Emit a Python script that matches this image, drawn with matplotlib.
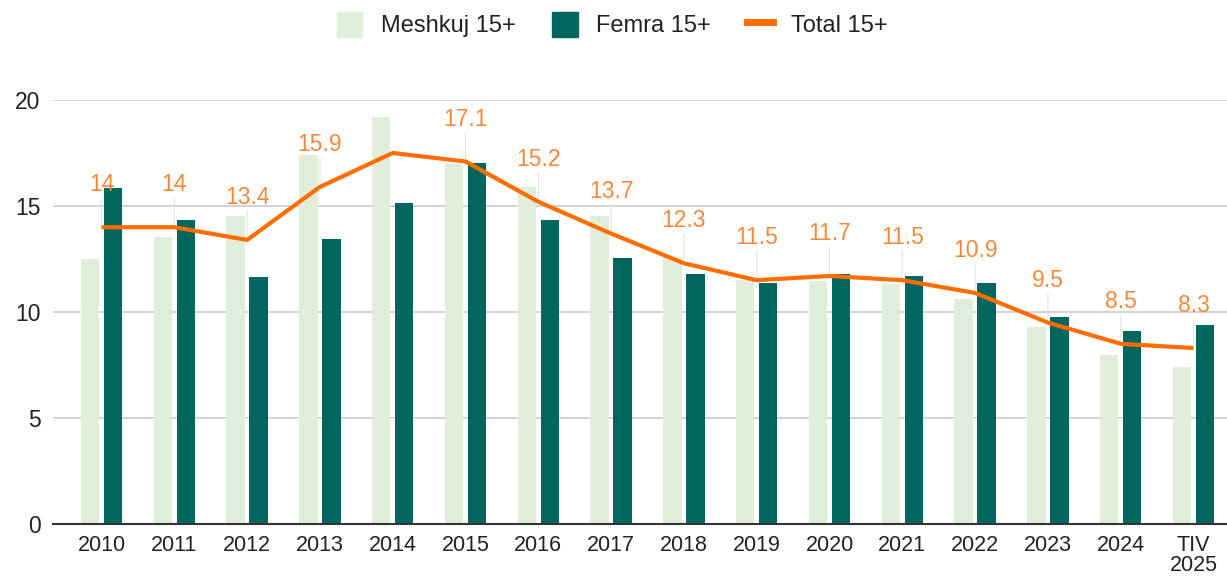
import numpy as np
import matplotlib
matplotlib.use("Agg")
matplotlib.rcParams["font.family"] = ["Liberation Sans", "DejaVu Sans"]
import matplotlib.pyplot as plt
from matplotlib.lines import Line2D
from matplotlib.patches import Patch

years = ["2010", "2011", "2012", "2013", "2014", "2015", "2016", "2017",
         "2018", "2019", "2020", "2021", "2022", "2023", "2024", "TIV\n2025"]
meshkuj = [12.5, 13.55, 14.55, 17.4, 19.2, 17.0, 15.9, 14.55,
           12.6, 11.5, 11.45, 11.3, 10.6, 9.3, 7.95, 7.4]
femra = [15.85, 14.35, 11.65, 13.45, 15.15, 17.05, 14.35, 12.55,
         11.8, 11.35, 11.8, 11.7, 11.35, 9.75, 9.1, 9.4]
total = [14, 14, 13.4, 15.9, 17.5, 17.1, 15.2, 13.7,
         12.3, 11.5, 11.7, 11.5, 10.9, 9.5, 8.5, 8.3]
# the chart shows no label above 2014
total_lbl = ["14", "14", "13.4", "15.9", "", "17.1", "15.2", "13.7",
             "12.3", "11.5", "11.7", "11.5", "10.9", "9.5", "8.5", "8.3"]

c_light = "#e1eed9"
c_dark = "#00665e"
c_line = "#ff6d00"
c_lbl = "#f5883a"

fig = plt.figure(figsize=(12.27, 5.78), dpi=100)
ax = fig.add_axes([0.0432, 0.0934, 0.9568, 0.7336])

x = np.arange(len(years))
w = 0.254
ax.bar(x - 0.158, meshkuj, w, color=c_light, zorder=2)
ax.bar(x + 0.158, femra, w, color=c_dark, zorder=2)

# thin leader lines from labels down to the points
for xi, v, s in zip(x, total, total_lbl):
    if s:
        ax.annotate("", xy=(xi, v), xytext=(0, 23), textcoords="offset points",
                    arrowprops=dict(arrowstyle="-", color="#e3e3e3", lw=0.8),
                    zorder=1)
ax.plot(x, total, color=c_line, lw=3, zorder=3, solid_capstyle="butt")
for xi, v, s in zip(x, total, total_lbl):
    if s:
        ax.annotate(s, (xi, v), xytext=(0, 30.5), textcoords="offset points",
                    ha="center", va="center", fontsize=16.5, color=c_lbl, zorder=4)

ax.set_xlim(-0.666, 15.46)
ax.set_ylim(0, 20)
ax.set_yticks([0, 5, 10, 15, 20])
ax.set_xticks(x)
ax.set_xticklabels(years, linespacing=0.95)
ax.tick_params(axis="both", length=0, labelcolor="#222222")
ax.tick_params(axis="x", labelsize=15.5, pad=8)
ax.tick_params(axis="y", labelsize=16.5, pad=9)
ax.grid(axis="y", color="#cccccc", lw=1.2, zorder=0)
ax.set_axisbelow(True)
for sp in ["top", "right", "left"]:
    ax.spines[sp].set_visible(False)
ax.spines["bottom"].set_color("#333333")
ax.spines["bottom"].set_linewidth(1.5)
ax.spines["bottom"].set_zorder(5)

handles = [Patch(color=c_light, label="Meshkuj 15+"),
           Patch(color=c_dark, label="Femra 15+"),
           Line2D([0], [0], color=c_line, lw=5, label="Total 15+")]
fig.legend(handles=handles, loc="center", bbox_to_anchor=(0.499, 0.957), ncol=3,
           frameon=False, fontsize=17, handlelength=1.1, handleheight=1.2,
           columnspacing=1.5, handletextpad=0.8, labelcolor="#222222")

fig.savefig("out.png", dpi=100)
